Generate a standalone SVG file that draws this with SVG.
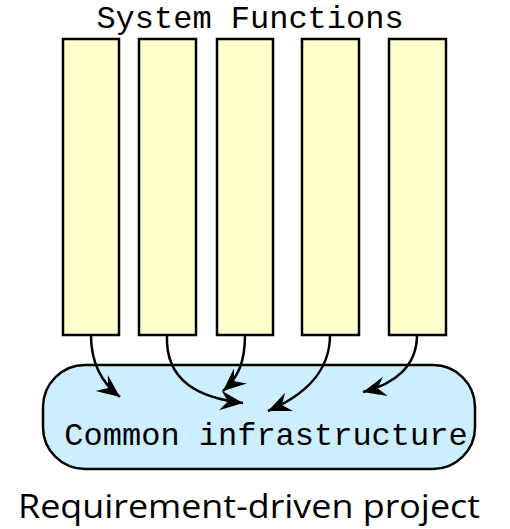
<svg xmlns="http://www.w3.org/2000/svg" width="510" height="529" viewBox="0 0 510 529">
  <style>
    .func { fill: #ffffcc; stroke: #000; stroke-width: 2.5; }
    .infra { fill: #cceeff; stroke: #000; stroke-width: 2.5; }
    .mono { font-family: "Liberation Mono", "Courier New", monospace; font-size: 32px; fill: #000; }
    .hand { font-family: "Comic Sans MS", "Open Sans", sans-serif; font-size: 32px; fill: #000; }
    .link { fill: none; stroke: #000; stroke-width: 2.5; marker-end: url(#head); }
  </style>
  <defs>
    <marker id="head" viewBox="-24 -12 26 24" markerWidth="26" markerHeight="24" refX="0" refY="0" orient="auto" markerUnits="userSpaceOnUse">
      <path d="M0,0 L-23,-10 L-15,0 L-23,10 Z" fill="#000"/>
    </marker>
  </defs>
  <rect width="510" height="529" fill="#fff"/>

  <text class="mono" x="250" y="28" text-anchor="middle">System Functions</text>

  <g id="infrastructure">
    <rect class="infra" x="43" y="365" width="432" height="104" rx="42" ry="42"/>
    <text class="mono" x="266" y="445" text-anchor="middle">Common infrastructure</text>
  </g>

  <g id="function-1"><rect class="func" x="63" y="39" width="56" height="296"/></g>
  <g id="function-2"><rect class="func" x="139" y="39" width="57" height="296"/></g>
  <g id="function-3"><rect class="func" x="217" y="39" width="56" height="296"/></g>
  <g id="function-4"><rect class="func" x="302" y="39" width="57" height="296"/></g>
  <g id="function-5"><rect class="func" x="389" y="39" width="57" height="296"/></g>

  <g id="connectors">
    <path class="link" d="M91,335 C91,365 103,384 120,397"/>
    <path class="link" d="M167,335 C165,382 200,398 243,403"/>
    <path class="link" d="M245,335 C245,362 238,378 223,391"/>
    <path class="link" d="M330,335 C330,372 305,395 268,411"/>
    <path class="link" d="M417,335 C417,366 395,384 363,392"/>
  </g>

  <text class="hand" x="18" y="518" textLength="462" lengthAdjust="spacingAndGlyphs">Requirement-driven project</text>
</svg>
